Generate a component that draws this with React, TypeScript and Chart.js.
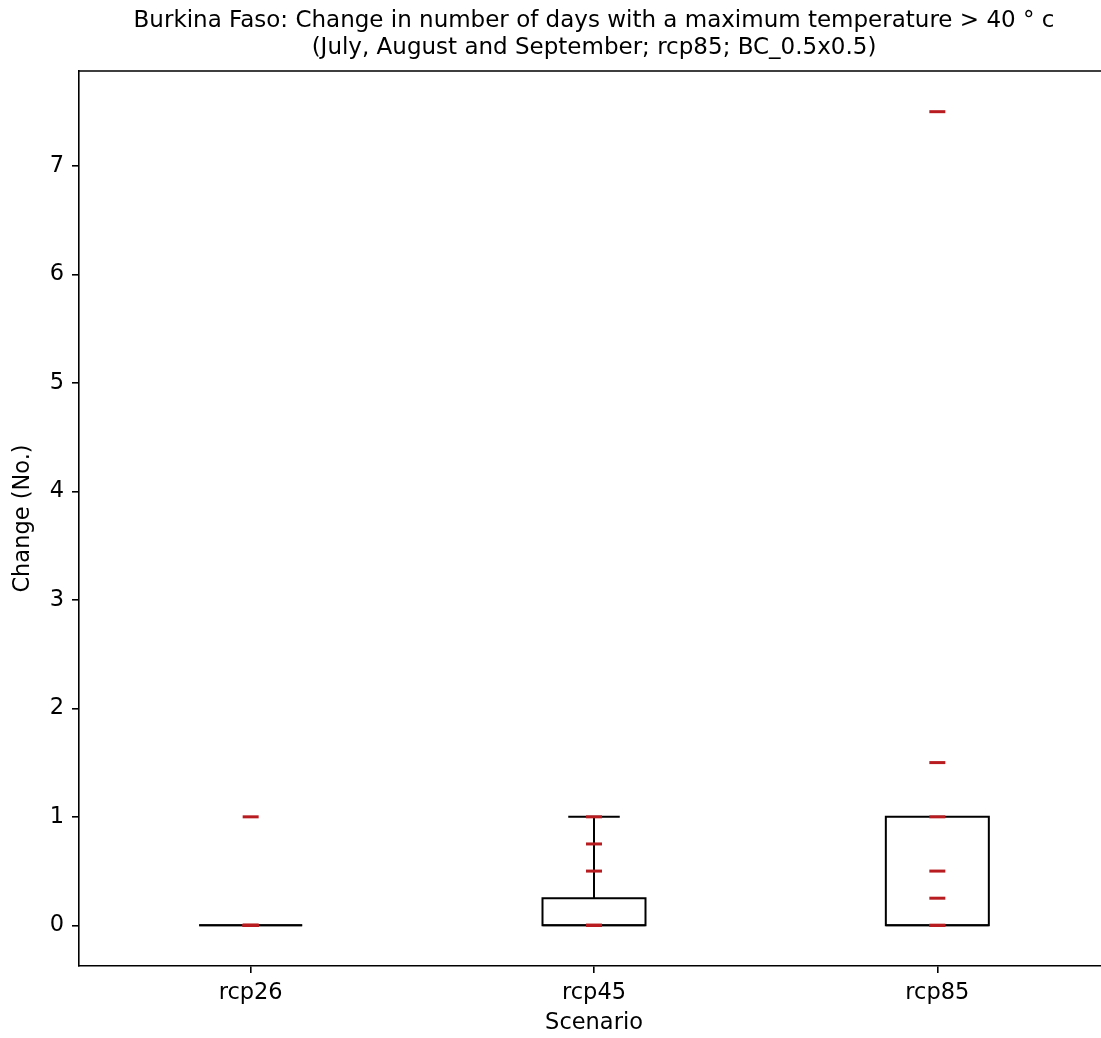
import React, { useEffect, useRef } from "react";
import { Chart, registerables } from "chart.js";

Chart.register(...registerables);

// ---- data ----
const categories = ["rcp26", "rcp45", "rcp85"];
const boxQ1 = [0, 0, 0];
const boxMedian = [0, 0, 0];
const boxQ3 = [0, 0.25, 1];
const whiskerLow = [0, 0, 0];
const whiskerHigh = [0, 1, 1];
const pointsRcp26 = [0, 0, 0, 0, 1];
const pointsRcp45 = [0, 0, 0, 0.5, 0.75, 1];
const pointsRcp85 = [0, 0, 0.25, 0.5, 1, 1.5, 7.5];
const yTicks = [0, 1, 2, 3, 4, 5, 6, 7];
const titleLines = [
  "Burkina Faso: Change in number of days with a maximum temperature > 40 \u00b0 c",
  "(July, August and September; rcp85; BC_0.5x0.5)",
];
const xLabel = "Scenario";
const yLabel = "Change (No.)";

// ---- styles ----
const FONT = "DejaVu Sans";
const FS = 22.5;
const TFS = 23;
const BOX_W = 0.3;
const CAP_W = 0.15;
const LINE_W = 2;
const SPINE_W = 1.6;
const MARK_COLOR = "rgb(185,28,32)";

const allPoints = [pointsRcp26, pointsRcp45, pointsRcp85];

const boxPlugin = {
  id: "boxes",
  beforeDatasetsDraw(chart: any) {
    const { ctx, scales } = chart;
    const x = scales.x;
    const y = scales.y;
    ctx.save();
    ctx.strokeStyle = "#000";
    ctx.lineWidth = LINE_W;
    categories.forEach((_, i) => {
      const pos = i + 1;
      const xl = x.getPixelForValue(pos - BOX_W / 2);
      const xr = x.getPixelForValue(pos + BOX_W / 2);
      const xc = x.getPixelForValue(pos);
      const cl = x.getPixelForValue(pos - CAP_W / 2);
      const cr = x.getPixelForValue(pos + CAP_W / 2);
      const yq1 = y.getPixelForValue(boxQ1[i]);
      const yq3 = y.getPixelForValue(boxQ3[i]);
      const ymed = y.getPixelForValue(boxMedian[i]);
      const ylo = y.getPixelForValue(whiskerLow[i]);
      const yhi = y.getPixelForValue(whiskerHigh[i]);
      ctx.beginPath();
      ctx.rect(xl, yq3, xr - xl, yq1 - yq3);
      ctx.moveTo(xc, yq1);
      ctx.lineTo(xc, ylo);
      ctx.moveTo(xc, yq3);
      ctx.lineTo(xc, yhi);
      ctx.moveTo(cl, ylo);
      ctx.lineTo(cr, ylo);
      ctx.moveTo(cl, yhi);
      ctx.lineTo(cr, yhi);
      ctx.stroke();
      ctx.beginPath();
      ctx.strokeStyle = "rgba(0,0,0,0.85)";
      ctx.moveTo(xl, ymed);
      ctx.lineTo(xr, ymed);
      ctx.stroke();
      ctx.strokeStyle = "#000";
    });
    ctx.restore();
  },
  afterDraw(chart: any) {
    const { ctx, chartArea } = chart;
    ctx.save();
    ctx.strokeStyle = "#000";
    ctx.lineWidth = SPINE_W;
    ctx.beginPath();
    ctx.moveTo(chartArea.left, chartArea.top);
    ctx.lineTo(chartArea.right, chartArea.top);
    ctx.moveTo(chartArea.right, chartArea.top);
    ctx.lineTo(chartArea.right, chartArea.bottom);
    ctx.stroke();
    ctx.restore();
  },
};

export default function App() {
  const ref = useRef<HTMLCanvasElement | null>(null);

  useEffect(() => {
    if (!ref.current) return;
    const data = allPoints.flatMap((pts, i) => pts.map((v) => ({ x: i + 1, y: v })));
    const chart = new Chart(ref.current, {
      type: "scatter",
      data: {
        datasets: [
          {
            data,
            pointStyle: "line",
            radius: 8,
            hoverRadius: 8,
            borderWidth: 3,
            borderColor: MARK_COLOR,
            backgroundColor: MARK_COLOR,
          },
        ],
      },
      options: {
        responsive: false,
        animation: false,
        devicePixelRatio: 1,
        layout: { padding: 0, autoPadding: false },
        plugins: {
          legend: { display: false },
          tooltip: { enabled: false },
          title: {
            display: true,
            fullSize: false,
            text: titleLines,
            color: "#000",
            font: { family: FONT, size: TFS, weight: "normal", lineHeight: 1.18 },
            padding: { top: 7, bottom: 9.72 },
          },
        },
        scales: {
          x: {
            type: "linear",
            min: 0.5,
            max: 3.5,
            afterBuildTicks: (s: any) => {
              s.ticks = categories.map((_, i) => ({ value: i + 1 }));
            },
            afterFit: (s: any) => {
              s.height = 72;
              s.paddingLeft = 0;
              s.paddingRight = 0;
            },
            ticks: {
              callback: (v: any) => categories[Math.round(Number(v)) - 1] ?? "",
              font: { family: FONT, size: FS },
              color: "#000",
              padding: 7,
              maxRotation: 0,
              autoSkip: false,
            },
            grid: { drawOnChartArea: false, drawTicks: true, tickLength: 7, color: "#000", lineWidth: SPINE_W },
            border: { display: true, color: "#000", width: SPINE_W },
            title: {
              display: true,
              text: xLabel,
              color: "#000",
              font: { family: FONT, size: FS },
              padding: { top: 0, bottom: 1 },
            },
          },
          y: {
            type: "linear",
            min: -0.375,
            max: 7.875,
            afterBuildTicks: (s: any) => {
              s.ticks = yTicks.map((v) => ({ value: v }));
            },
            afterFit: (s: any) => {
              s.width = 79;
              s.paddingTop = 0;
              s.paddingBottom = 0;
            },
            ticks: {
              font: { family: FONT, size: FS },
              color: "#000",
              padding: 8,
            },
            grid: { drawOnChartArea: false, drawTicks: true, tickLength: 7, color: "#000", lineWidth: SPINE_W },
            border: { display: true, color: "#000", width: SPINE_W },
            title: {
              display: true,
              text: yLabel,
              color: "#000",
              font: { family: FONT, size: FS },
              padding: { top: 10, bottom: 0 },
            },
          },
        },
      },
      plugins: [boxPlugin],
    } as any);
    return () => chart.destroy();
  }, []);

  return (
    <div
      style={{
        position: "fixed",
        left: 0,
        top: 0,
        width: 1101,
        height: 1038,
        overflow: "hidden",
        background: "#fff",
      }}
    >
      <canvas ref={ref} width={1109} height={1038} style={{ display: "block" }} />
    </div>
  );
}
